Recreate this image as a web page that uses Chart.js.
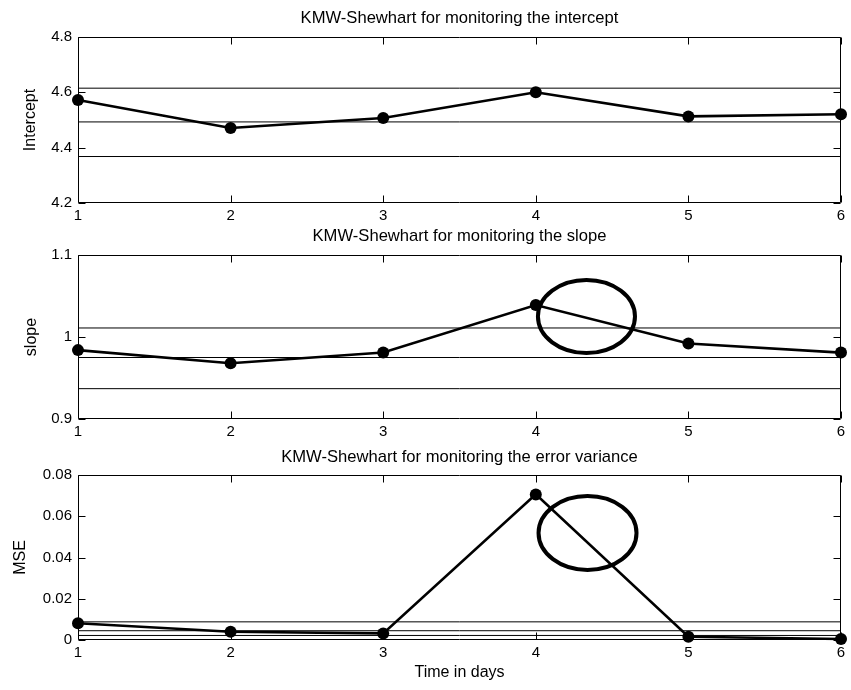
<!DOCTYPE html>
<html><head><meta charset="utf-8">
<script src="https://cdn.jsdelivr.net/npm/chart.js@4"></script>
<style>
html,body{margin:0;padding:0;background:#fff;}
#wrap{position:relative;width:851px;height:690px;overflow:hidden;background:#fff;}
canvas{position:absolute;left:0;}
</style></head><body>
<div id="wrap">
<canvas id="c1" width="851" height="222" style="top:0px;width:851px;height:222px"></canvas>
<canvas id="c2" width="851" height="218" style="top:222px;width:851px;height:218px"></canvas>
<canvas id="c3" width="851" height="250" style="top:440px;width:851px;height:250px"></canvas>
</div>
<script>
// ---- data ----
const days = [1, 2, 3, 4, 5, 6];
const xTicks = [1, 2, 3, 4, 5, 6];

const interceptValues = [4.572, 4.471, 4.507, 4.600, 4.513, 4.521];
const interceptLimits = [4.615, 4.493, 4.368];
const interceptTicks = [4.2, 4.4, 4.6, 4.8];

const slopeValues = [0.984, 0.968, 0.981, 1.039, 0.992, 0.981];
const slopeLimits = [1.011, 0.975, 0.937];
const slopeTicks = [0.9, 1, 1.1];

const mseValues = [0.0081, 0.0040, 0.0032, 0.0706, 0.0016, 0.0005];
const mseLimits = [0.0088, 0.0045, 0.0022];
const mseTicks = [0, 0.02, 0.04, 0.06, 0.08];

// highlight ellipses (centre and half-axes in data units)
const slopeCircle = {cx: 4.332, cy: 1.025, rx: 0.318, ry: 0.0445};
const mseCircle = {cx: 4.339, cy: 0.0519, rx: 0.321, ry: 0.0179};

const FONT = "'Liberation Sans', Arial, Helvetica, sans-serif";

const boxPlugin = {
  id: 'matlabBox',
  afterDatasetsDraw(chart, args, opts) {
    const {ctx, chartArea: a, scales: {x, y}} = chart;
    ctx.save();
    ctx.strokeStyle = '#000';
    ctx.lineWidth = 1;
    const L = Math.round(a.left) + 0.5, R = Math.round(a.right) - 0.5;
    const T = Math.round(a.top) + 0.5, B = Math.round(a.bottom) - 0.5;
    ctx.beginPath();
    ctx.rect(L, T, R - L, B - T);
    const tl = 7;
    x.ticks.forEach(t => {
      const px = Math.round(x.getPixelForValue(t.value)) + 0.5;
      ctx.moveTo(px, B); ctx.lineTo(px, B - tl);
      ctx.moveTo(px, T); ctx.lineTo(px, T + tl);
    });
    y.ticks.forEach(t => {
      const py = Math.round(y.getPixelForValue(t.value)) + 0.5;
      ctx.moveTo(L, py); ctx.lineTo(L + tl, py);
      ctx.moveTo(R, py); ctx.lineTo(R - tl, py);
    });
    ctx.stroke();
    const c = opts && opts.circle;
    if (c) {
      const cx = x.getPixelForValue(c.cx), cy = y.getPixelForValue(c.cy);
      const rx = Math.abs(x.getPixelForValue(c.cx + c.rx) - cx);
      const ry = Math.abs(y.getPixelForValue(c.cy + c.ry) - cy);
      ctx.beginPath();
      ctx.lineWidth = 4;
      ctx.ellipse(cx, cy, rx, ry, 0, 0, Math.PI * 2);
      ctx.stroke();
    }
    // axes title, centred over the plot box (MATLAB style)
    if (opts && opts.title) {
      ctx.fillStyle = '#000';
      ctx.font = '16.6px ' + FONT;
      ctx.textAlign = 'center';
      ctx.textBaseline = 'middle';
      ctx.fillText(opts.title, (a.left + a.right) / 2, opts.titleY);
    }
    ctx.restore();
  }
};

function makeChart(id, cfg) {
  const datasets = cfg.limits.map(L => ({
    data: [{x: days[0], y: L}, {x: days[days.length - 1], y: L}],
    borderColor: '#000', borderWidth: 1, pointRadius: 0, fill: false, tension: 0, clip: false
  }));
  datasets.push({
    data: cfg.values.map((v, i) => ({x: days[i], y: v})),
    borderColor: '#000', borderWidth: 2.6, pointRadius: 6, pointBorderWidth: 0,
    pointBackgroundColor: '#000', pointBorderColor: '#000', fill: false, tension: 0, clip: false
  });
  return new Chart(document.getElementById(id), {
    type: 'line',
    data: {datasets},
    plugins: [boxPlugin],
    options: {
      responsive: false, animation: false, devicePixelRatio: 1,
      layout: {padding: {left: 0, right: 10, top: cfg.top, bottom: 0}},
      plugins: {
        legend: {display: false}, tooltip: {enabled: false}, title: {display: false},
        matlabBox: {circle: cfg.circle || null, title: cfg.title, titleY: cfg.titleY}
      },
      scales: {
        x: {
          type: 'linear', min: 1, max: 6,
          afterBuildTicks: s => { s.ticks = xTicks.map(v => ({value: v})); },
          afterFit: s => { s.height = cfg.xHeight; },
          grid: {display: false, drawTicks: false},
          border: {display: false},
          ticks: {color: '#000', padding: 4, maxRotation: 0, autoSkip: false,
            font: {family: FONT, size: 15}, callback: v => String(v)},
          title: cfg.xTitle ? {display: true, text: cfg.xTitle, color: '#000',
            font: {family: FONT, size: 16}, padding: {top: 0, bottom: 7.4}} : {display: false}
        },
        y: {
          type: 'linear', min: cfg.yTicks[0], max: cfg.yTicks[cfg.yTicks.length - 1],
          afterBuildTicks: s => { s.ticks = cfg.yTicks.map(v => ({value: v})); },
          afterFit: s => { s.width = 78; },
          grid: {display: false, drawTicks: false},
          border: {display: false},
          ticks: {color: '#000', padding: 6, autoSkip: false,
            font: {family: FONT, size: 15}, callback: v => String(v)},
          title: {display: true, text: cfg.yLabel, color: '#000',
            font: {family: FONT, size: 16}, padding: {top: cfg.yLabelPad, bottom: 0}}
        }
      }
    }
  });
}

makeChart('c1', {title: 'KMW-Shewhart for monitoring the intercept', yLabel: 'Intercept',
  values: interceptValues, limits: interceptLimits, yTicks: interceptTicks,
  top: 37, titleY: 18, xHeight: 19, yLabelPad: 21.4});
makeChart('c2', {title: 'KMW-Shewhart for monitoring the slope', yLabel: 'slope',
  values: slopeValues, limits: slopeLimits, yTicks: slopeTicks,
  top: 33, titleY: 14, xHeight: 21, yLabelPad: 21.9, circle: slopeCircle});
makeChart('c3', {title: 'KMW-Shewhart for monitoring the error variance', yLabel: 'MSE',
  values: mseValues, limits: mseLimits, yTicks: mseTicks,
  top: 35, titleY: 17, xHeight: 50, yLabelPad: 11.4, circle: mseCircle, xTitle: 'Time in days'});
</script>
</body></html>
